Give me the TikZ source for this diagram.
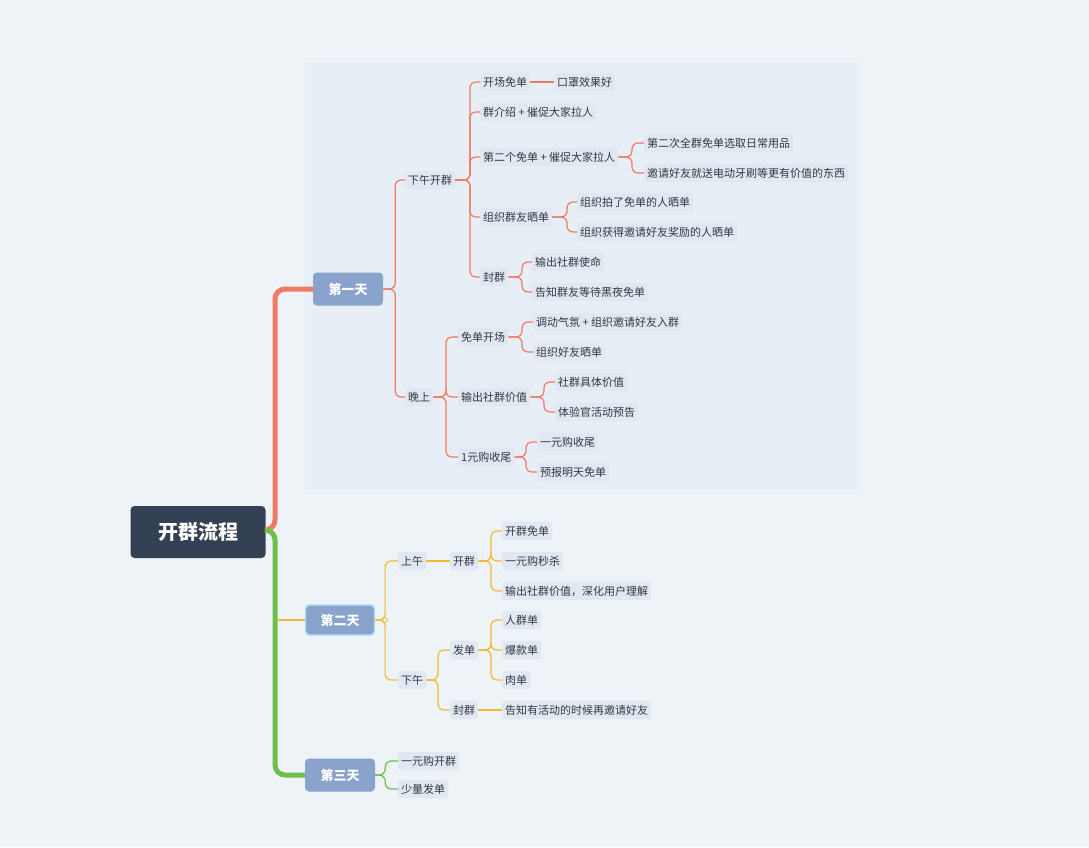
\documentclass[tikz,border=0pt]{standalone}
\usepackage{fontspec}
\setmainfont{Noto Sans CJK SC}
\usetikzlibrary{calc}
\definecolor{bg}{HTML}{EEF3F7}
\definecolor{panel}{HTML}{E7EEF6}
\definecolor{tb}{HTML}{E2E8F1}
\definecolor{rc}{HTML}{F07A63}
\definecolor{yc}{HTML}{F2B935}
\definecolor{gc}{HTML}{6CC04A}
\definecolor{day}{HTML}{8AA3CC}
\definecolor{rootc}{HTML}{344054}
\definecolor{tx}{HTML}{333840}
\tikzset{
 t/.style={anchor=west,fill=tb,rounded corners=2pt,inner xsep=3pt,inner ysep=4pt,text=tx,font=\fontsize{11}{12}\selectfont},
 dayn/.style={fill=day,rounded corners=4pt,text=white,font=\fontsize{13}{14}\selectfont\bfseries,minimum width=70pt,minimum height=33pt},
 R/.style={draw=rc,line width=1.2pt,rounded corners=6pt},
 Y/.style={draw=yc,line width=1.2pt,rounded corners=6pt},
 G/.style={draw=gc,line width=1.2pt,rounded corners=6pt},
}
\newcommand\br[4]{\draw[#1] (#2.east) -- ++(#3,0) |- (#4.west);}
\begin{document}
\begin{tikzpicture}[x=1pt,y=-1pt]
\useasboundingbox[fill=bg] (0,0) rectangle (1089,847);
\fill[panel] (305,62) rectangle (860,490);
% root and days
\node[fill=rootc,rounded corners=4pt,text=white,font=\fontsize{20}{22}\selectfont\bfseries,minimum width=135pt,minimum height=52pt] (root) at (198,532) {开群流程};
\node[dayn] (d1) at (348,289) {第一天};
\node[dayn,draw=cyan!35,line width=1.2pt,minimum width=69pt,minimum height=30pt] (d2) at (340,620) {第二天};
\node[dayn] (d3) at (340,775) {第三天};
\draw[rc,line width=5pt,rounded corners=10pt] (265,530) -- (275,530) |- (d1.west);
\draw[gc,line width=5pt,rounded corners=10pt] (265,530) -- (275,530) |- (d3.west);
\draw[yc,line width=2.5pt] (277,620) -- (d2.west);
% day 1
\node[t] (a) at (405,180) {下午开群};
\node[t] (b) at (405,397) {晚上};
\br{R}{d1}{12}{a}\br{R}{d1}{12}{b}
\node[t] (a1) at (480,82) {开场免单};
\node[t] (a2) at (480,112) {群介绍 + 催促大家拉人};
\node[t] (a3) at (480,157) {第二个免单 + 催促大家拉人};
\node[t] (a4) at (480,217) {组织群友晒单};
\node[t] (a5) at (480,277) {封群};
\foreach \c in {a1,a2,a3,a4,a5}{\draw[R] (a.east) -- (470,180) |- (\c.west);}
\node[t] (a11) at (554,82) {口罩效果好};
\draw[R] (a1) -- (a11);
\node[t] (a31) at (644,143) {第二次全群免单选取日常用品};
\node[t] (a32) at (644,173) {邀请好友就送电动牙刷等更有价值的东西};
\foreach \c in {a31,a32}{\draw[R] (a3.east) -- (632,157) |- (\c.west);}
\node[t] (a41) at (577,202) {组织拍了免单的人晒单};
\node[t] (a42) at (577,232) {组织获得邀请好友奖励的人晒单};
\foreach \c in {a41,a42}{\draw[R] (a4.east) -- (567,217) |- (\c.west);}
\node[t] (a51) at (532,262) {输出社群使命};
\node[t] (a52) at (532,292) {告知群友等待黑夜免单};
\foreach \c in {a51,a52}{\draw[R] (a5.east) -- (522,277) |- (\c.west);}
\node[t] (b1) at (458,337) {免单开场};
\node[t] (b2) at (458,397) {输出社群价值};
\node[t] (b3) at (458,457) {1元购收尾};
\foreach \c in {b1,b2,b3}{\draw[R] (b.east) -- (446,397) |- (\c.west);}
\node[t] (b11) at (533,322) {调动气氛 + 组织邀请好友入群};
\node[t] (b12) at (533,352) {组织好友晒单};
\foreach \c in {b11,b12}{\draw[R] (b1.east) -- (522,337) |- (\c.west);}
\node[t] (b21) at (555,382) {社群具体价值};
\node[t] (b22) at (555,412) {体验官活动预告};
\foreach \c in {b21,b22}{\draw[R] (b2.east) -- (544,397) |- (\c.west);}
\node[t] (b31) at (537,442) {一元购收尾};
\node[t] (b32) at (537,472) {预报明天免单};
\foreach \c in {b31,b32}{\draw[R] (b3.east) -- (526,457) |- (\c.west);}
% day 2
\node[t] (c) at (398,561) {上午};
\node[t] (e) at (398,680) {下午};
\draw[yc,fill=bg,line width=0.8pt] (385,620) circle (2.5pt);
\br{Y}{d2}{10}{c}\br{Y}{d2}{10}{e}
\node[t] (c1) at (450,561) {开群};
\draw[Y] (c) -- (c1);
\node[t] (c11) at (502,531) {开群免单};
\node[t] (c12) at (502,561) {一元购秒杀};
\node[t] (c13) at (502,591) {输出社群价值，深化用户理解};
\foreach \c in {c11,c12,c13}{\draw[Y] (c1.east) -- (491,561) |- (\c.west);}
\node[t] (e1) at (450,650) {发单};
\node[t] (e2) at (450,710) {封群};
\foreach \c in {e1,e2}{\draw[Y] (e.east) -- (438,680) |- (\c.west);}
\node[t] (e11) at (502,620) {人群单};
\node[t] (e12) at (502,650) {爆款单};
\node[t] (e13) at (502,680) {肉单};
\foreach \c in {e11,e12,e13}{\draw[Y] (e1.east) -- (491,650) |- (\c.west);}
\node[t] (e21) at (502,710) {告知有活动的时候再邀请好友};
\draw[Y] (e2) -- (e21);
% day 3
\node[t] (f1) at (398,761) {一元购开群};
\node[t] (f2) at (398,789) {少量发单};
\br{G}{d3}{10}{f1}\br{G}{d3}{10}{f2}
\end{tikzpicture}
\end{document}
